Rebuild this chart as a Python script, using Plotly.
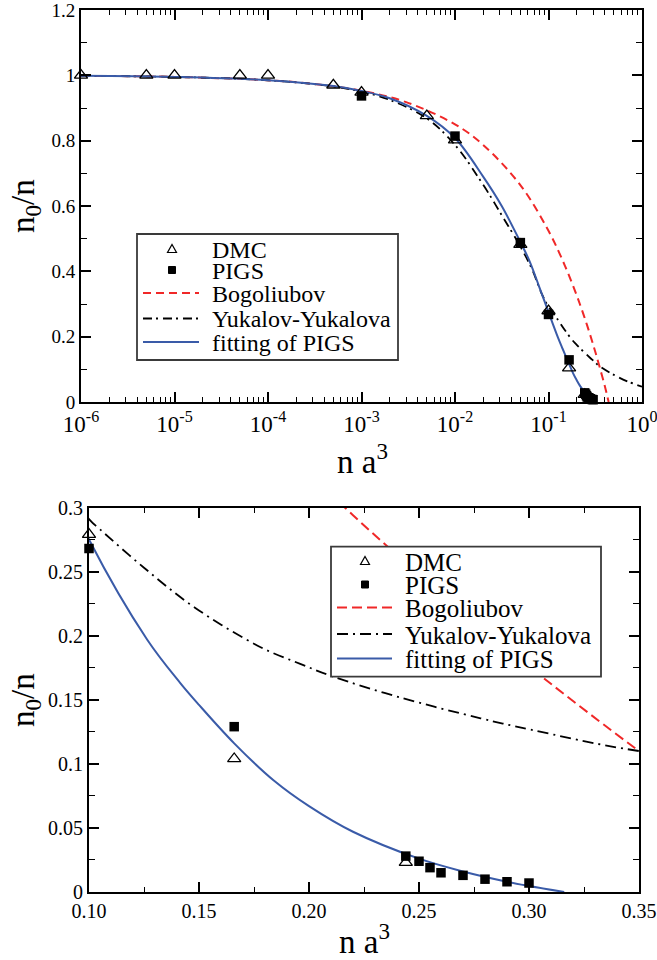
import plotly.graph_objects as go

# ---------------------------------------------------------------------------
# Condensate fraction n0/n versus gas parameter n a^3
# ---------------------------------------------------------------------------

# Monte Carlo estimates
dmc_x = [1e-6, 5e-6, 1e-5, 5e-5, 1e-4, 5e-4, 1e-3, 5e-3, 1e-2, 5e-2, 0.1, 0.166, 0.244]
dmc_y = [1.0, 1.0, 1.0, 1.0, 1.0, 0.970, 0.948, 0.876, 0.802, 0.482, 0.279, 0.104, 0.023]

pigs_x = [1e-3, 1e-2, 5e-2, 0.1, 0.166, 0.244, 0.25, 0.255, 0.26, 0.27, 0.28, 0.29, 0.30]
pigs_y = [0.937, 0.814, 0.488, 0.268, 0.129, 0.028, 0.024, 0.019, 0.015, 0.013, 0.010, 0.008, 0.007]

# Bogoliubov prediction
bog_x = [1e-6, 1e-5, 1e-4, 3e-4, 1e-3, 3e-3, 1e-2, 2e-2, 5e-2, 0.1, 0.15, 0.2,
         0.22, 0.24, 0.26, 0.28, 0.30, 0.32, 0.35, 0.40, 0.44]
bog_y = [0.9985, 0.9952, 0.985, 0.974, 0.953, 0.918, 0.850, 0.787, 0.664, 0.524, 0.417, 0.327,
         0.294, 0.263, 0.233, 0.204, 0.176, 0.149, 0.110, 0.049, 0.0]

# Yukalov-Yukalova theory
yy_x = [1e-6, 1e-5, 1e-4, 5e-4, 1e-3, 2e-3, 5e-3, 1e-2, 2e-2, 3.16e-2, 5e-2, 6.7e-2, 8.5e-2,
        0.1, 0.105, 0.125, 0.148, 0.178, 0.196, 0.211, 0.241, 0.278, 0.30, 0.35, 0.5, 0.7, 1.0]
yy_y = [0.9985, 0.995, 0.985, 0.966, 0.950, 0.925, 0.868, 0.787, 0.665, 0.572, 0.476, 0.405, 0.330,
        0.291, 0.283, 0.253, 0.222, 0.191, 0.178, 0.168, 0.152, 0.1355, 0.127, 0.110, 0.083, 0.063, 0.047]

# Fit to the PIGS data
fit_x = [1e-6, 1e-5, 1e-4, 5e-4, 1e-3, 2e-3, 5e-3, 1e-2, 2e-2, 3.16e-2, 5e-2, 6.3e-2, 7.9e-2,
         0.1, 0.1264, 0.1415, 0.15, 0.166, 0.184, 0.2, 0.22, 0.25, 0.27, 0.29, 0.30, 0.316]
fit_y = [0.9985, 0.995, 0.985, 0.967, 0.952, 0.930, 0.876, 0.808, 0.690, 0.600, 0.490, 0.430, 0.355,
         0.275, 0.197, 0.163, 0.146, 0.116, 0.087, 0.067, 0.047, 0.026, 0.016, 0.008, 0.0047, 0.0]

series_names = ["DMC", "PIGS", "Bogoliubov", "Yukalov-Yukalova", "fitting of PIGS"]

log_tick_vals = [1e-6, 1e-5, 1e-4, 1e-3, 1e-2, 1e-1, 1e0]
log_tick_text = ["10<sup>-6</sup>", "10<sup>-5</sup>", "10<sup>-4</sup>", "10<sup>-3</sup>",
                 "10<sup>-2</sup>", "10<sup>-1</sup>", "10<sup>0</sup>"]

# ---------------------------------------------------------------------------
W, H = 657, 960
SERIF = "Liberation Serif, Times New Roman, Times, DejaVu Serif, serif"
RED = "#f02828"
BLUE = "#3a5ba8"
BLACK = "black"
RED_W, YY_W, FIT_W = 2.0, 1.8, 2.0


def fx(px):
    return px / W


def fy(py):
    return 1 - py / H


fig = go.Figure()

# per-panel dash patterns and the lower bound of the markers shown
panels = [
    dict(xa="x", ya="y", red_dash="8px,5px", yy_dash="9px,4px,2px,5px", xmin=0.0),
    dict(xa="x2", ya="y2", red_dash="10px,5px", yy_dash="11px,5px,2px,5px", xmin=0.1),
]

for p in panels:
    fig.add_trace(go.Scatter(x=bog_x, y=bog_y, mode="lines", line_shape="spline",
                             line=dict(color=RED, width=RED_W, dash=p["red_dash"]),
                             xaxis=p["xa"], yaxis=p["ya"], showlegend=False))
    fig.add_trace(go.Scatter(x=yy_x, y=yy_y, mode="lines", line_shape="spline",
                             line=dict(color=BLACK, width=YY_W, dash=p["yy_dash"]),
                             xaxis=p["xa"], yaxis=p["ya"], showlegend=False))
    fig.add_trace(go.Scatter(x=fit_x, y=fit_y, mode="lines", line_shape="spline",
                             line=dict(color=BLUE, width=FIT_W),
                             xaxis=p["xa"], yaxis=p["ya"], showlegend=False))
    dx = [x for x in dmc_x if x >= p["xmin"]]
    dy = [y for x, y in zip(dmc_x, dmc_y) if x >= p["xmin"]]
    px_ = [x for x in pigs_x if x >= p["xmin"]]
    py_ = [y for x, y in zip(pigs_x, pigs_y) if x >= p["xmin"]]
    fig.add_trace(go.Scatter(x=dx, y=dy, mode="markers", cliponaxis=False,
                             marker=dict(symbol="triangle-up-open", size=11.5, color=BLACK,
                                         line=dict(width=1.3, color=BLACK)),
                             xaxis=p["xa"], yaxis=p["ya"], showlegend=False))
    fig.add_trace(go.Scatter(x=px_, y=py_, mode="markers", cliponaxis=False,
                             marker=dict(symbol="square", size=9.5, color=BLACK),
                             xaxis=p["xa"], yaxis=p["ya"], showlegend=False))


def axis_style(font_size, **kw):
    base = dict(showline=True, linecolor=BLACK, linewidth=2, mirror="ticks",
                ticks="inside", ticklen=10, tickwidth=1.5, tickcolor=BLACK,
                showgrid=False, zeroline=False, automargin=False,
                ticklabeloverflow="allow",
                tickfont=dict(family=SERIF, size=font_size, color=BLACK))
    base.update(kw)
    return base


def minor_style(dtick, ticklen=5):
    return dict(ticks="inside", ticklen=ticklen, tickwidth=1.2, tickcolor=BLACK,
                showgrid=False, dtick=dtick)


fig.update_layout(
    width=W, height=H,
    margin=dict(l=0, r=0, t=0, b=0),
    paper_bgcolor="white", plot_bgcolor="white",
    showlegend=False,
    font=dict(family=SERIF, color=BLACK),
    xaxis=axis_style(23, type="log", range=[-6, 0], anchor="y",
                     domain=[fx(81), fx(642)],
                     tickmode="array", tickvals=log_tick_vals, ticktext=log_tick_text,
                     minor=minor_style("D1")),
    yaxis=axis_style(19, range=[0, 1.2], anchor="x",
                     domain=[fy(402), fy(10)], dtick=0.2, tick0=0,
                     minor=minor_style(0.1, 6)),
    xaxis2=axis_style(20, range=[0.1, 0.35], anchor="y2",
                      domain=[fx(89), fx(639)], tick0=0.1, dtick=0.05, tickformat=".2f",
                      minor=minor_style(0.025, 5)),
    yaxis2=axis_style(20, range=[0, 0.3], anchor="x2",
                      domain=[fy(892), fy(507.5)], tick0=0, dtick=0.05,
                      minor=minor_style(0.025, 6)),
)

annotations = []
shapes = []

# axis titles
title_font = dict(family=SERIF, size=33, color=BLACK)
annotations += [
    dict(text="n a<sup>3</sup>", x=fx(362), y=fy(482), xref="paper", yref="paper",
         xanchor="center", yanchor="bottom", showarrow=False, font=title_font),
    dict(text="n a<sup>3</sup>", x=fx(364), y=fy(962), xref="paper", yref="paper",
         xanchor="center", yanchor="bottom", showarrow=False, font=title_font),
    dict(text="n<sub>0</sub>/n", x=fx(25), y=fy(206), xref="paper", yref="paper",
         xanchor="center", yanchor="middle", textangle=-90, showarrow=False, font=title_font),
    dict(text="n<sub>0</sub>/n", x=fx(25), y=fy(700), xref="paper", yref="paper",
         xanchor="center", yanchor="middle", textangle=-90, showarrow=False, font=title_font),
]


def add_legend(box, rows, sym_x, line_x0, line_x1, text_x, font_size, red_dash, yy_dash):
    x0, y0, x1, y1 = box
    shapes.append(dict(type="rect", xref="paper", yref="paper",
                       x0=fx(x0), x1=fx(x1), y0=fy(y1), y1=fy(y0),
                       line=dict(color="#3a3a3a", width=1.8), fillcolor="white", layer="above"))
    # open triangle
    r = rows[0]
    tri = "M {:.5f},{:.5f} L {:.5f},{:.5f} L {:.5f},{:.5f} Z".format(
        fx(sym_x - 4.5), fy(r + 3.5), fx(sym_x + 4.5), fy(r + 3.5), fx(sym_x), fy(r - 4.5))
    shapes.append(dict(type="path", xref="paper", yref="paper", path=tri,
                       line=dict(color=BLACK, width=1.2), fillcolor="white", layer="above"))
    # filled square
    r = rows[1]
    shapes.append(dict(type="rect", xref="paper", yref="paper",
                       x0=fx(sym_x - 3.5), x1=fx(sym_x + 3.5), y0=fy(r + 3.5), y1=fy(r - 3.5),
                       line=dict(color=BLACK, width=1), fillcolor=BLACK, layer="above"))
    # line samples
    styles = [dict(color=RED, width=RED_W, dash=red_dash),
              dict(color=BLACK, width=YY_W, dash=yy_dash),
              dict(color=BLUE, width=FIT_W)]
    for r, st in zip(rows[2:], styles):
        shapes.append(dict(type="line", xref="paper", yref="paper",
                           x0=fx(line_x0), x1=fx(line_x1), y0=fy(r), y1=fy(r),
                           line=st, layer="above"))
    for r, name in zip(rows, series_names):
        annotations.append(dict(text=name, x=fx(text_x), y=fy(r + 1), xref="paper", yref="paper",
                                xanchor="left", yanchor="middle", showarrow=False,
                                font=dict(family=SERIF, size=font_size, color=BLACK)))


add_legend((137, 234, 398, 360), [249, 270, 293, 318.5, 342], 172, 143, 199, 210, 24,
           "8px,5px", "9px,4px,2px,5px")
add_legend((331, 546.7, 601, 676.7), [561, 584.5, 607.5, 634, 658.5], 365, 337, 392, 403, 25,
           "10px,5px", "11px,5px,2px,5px")

fig.update_layout(annotations=annotations, shapes=shapes)

fig.write_html("out.html")
